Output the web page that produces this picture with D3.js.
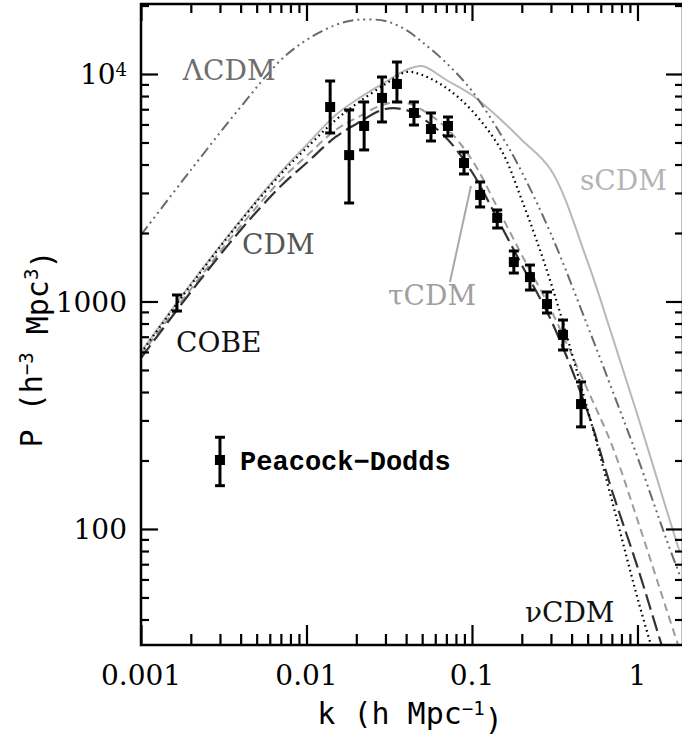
<!DOCTYPE html>
<html>
<head>
<meta charset="utf-8">
<script src="https://cdn.jsdelivr.net/npm/d3@7"></script>
<style>
body { margin: 0; background: #fff; }
svg { display: block; }
</style>
</head>
<body>
<div id="chart"></div>
<script>
// model curves, sampled on a common k grid (h/Mpc), P in (h^-3 Mpc^3)
var kGrid = [0.001, 0.002, 0.004, 0.007, 0.01, 0.015, 0.02, 0.03, 0.04, 0.05, 0.07, 0.1, 0.15, 0.2, 0.3, 0.5, 0.7, 1.0, 1.5, 1.8];

var sCDM   = [600, 1194, 2281, 3708, 4874, 6604, 7688, 9223, 10410, 10840, 9410, 8083, 6279, 5128, 3784, 1492, 712, 317, 121, 79.2];
var lCDM   = [1960, 3784, 7160, 11520, 14110, 16430, 17280, 17100, 15610, 13830, 11180, 8420, 5395, 3708, 1980, 780, 412, 207, 89.4, 62.8];
var CDM    = [594, 1182, 2258, 3635, 4728, 6279, 7383, 9036, 10200, 9899, 8679, 6900, 4634, 2794, 1206, 334, 134, 49.7, 17.7, 10];
var tauCDM = [582, 1134, 2147, 3420, 4361, 5673, 6406, 7383, 7458, 6948, 5788, 4188, 2400, 1601, 918, 408, 234, 109.5, 44.1, 29.4];
var nuCDM  = [564, 1101, 2062, 3219, 4063, 5286, 6028, 7018, 6948, 6406, 5233, 3708, 2147, 1447, 829, 327, 148, 68.1, 26.3, 17.7];

// Peacock-Dodds points
var pdK  = [0.0139, 0.0181, 0.0223, 0.0286, 0.0352, 0.0446, 0.0565, 0.0716, 0.0895, 0.112, 0.142, 0.179, 0.224, 0.284, 0.355, 0.456];
var pdP  = [7160, 4400, 5910, 7850, 9040, 6740, 5730, 5910, 4060, 2940, 2330, 1490, 1280, 975, 713, 354];
var pdLo = [5505, 2710, 4637, 6153, 7535, 5966, 5076, 5340, 3635, 2603, 2104, 1334, 1123, 890, 612, 281];
var pdHi = [9316, 6950, 7535, 9700, 11290, 7535, 6740, 6471, 4540, 3352, 2525, 1667, 1446, 1101, 829, 443];

// COBE normalisation point
var cobeK = [0.00165], cobeP = [985], cobeLo = [908], cobeHi = [1068];

// legend symbol
var legK = 0.003, legP = 201, legLo = 155, legHi = 253;

var xMajor = [0.001, 0.01, 0.1, 1];
var xLabels = ["0.001", "0.01", "0.1", "1"];
var yMajor = [100, 1000, 10000];
var yLabels = [["100", ""], ["1000", ""], ["10", "4"]];

var modelLabels = [
  {text: "\u039BCDM", k: 0.00179, P: 9410, color: "#6e6e6e"},
  {text: "CDM", k: 0.00408, P: 1618, color: "#555"},
  {text: "COBE", k: 0.00163, P: 600, color: "#111"},
  {text: "sCDM", k: 0.449, P: 3092, color: "#b4b4b4"},
  {text: "\u03C4CDM", k: 0.0311, P: 965, color: "#a0a0a0"},
  {text: "\u03BDCDM", k: 0.209, P: 39, color: "#111"}
];

var W = 682, H = 738;
var margin = {top: 4, right: -1, bottom: 93, left: 141},
    width = W - margin.left - margin.right,
    height = H - margin.top - margin.bottom;

var svg = d3.select("#chart").append("svg")
    .attr("width", W)
    .attr("height", H)
    .append("g")
    .attr("transform", "translate(" + margin.left + "," + margin.top + ")");

var x = d3.scaleLog().domain([0.001, 1.884]).range([0, width]);
var y = d3.scaleLog().domain([30.9, 20310]).range([height, 0]);

svg.append("clipPath").attr("id", "clip")
    .append("rect").attr("width", width).attr("height", height);

var plot = svg.append("g").attr("clip-path", "url(#clip)");

var line = d3.line()
    .x(d => x(d[0]))
    .y(d => y(d[1]))
    .curve(d3.curveCatmullRom.alpha(0.5));

var models = [
  {vals: sCDM,   stroke: "#b8b8b8", dash: null,                 w: 2},
  {vals: lCDM,   stroke: "#6a6a6a", dash: "11,4,2,4,2,4,2,4",   w: 2},
  {vals: tauCDM, stroke: "#9c9c9c", dash: "8,5",                w: 2},
  {vals: nuCDM,  stroke: "#333",    dash: "16,6",               w: 2.2},
  {vals: CDM,    stroke: "#000",    dash: "1.6,3.6",            w: 2.2}
];

plot.selectAll(".model")
    .data(models)
    .enter()
    .append("path")
    .attr("class", "model")
    .attr("d", m => line(kGrid.map((k, i) => [k, m.vals[i]])))
    .attr("fill", "none")
    .attr("stroke", m => m.stroke)
    .attr("stroke-width", m => m.w)
    .attr("stroke-dasharray", m => m.dash);

// error bars
function errorBars(g, ks, ps, los, his, square) {
  var pts = ks.map((k, i) => ({k: k, p: ps[i], lo: los[i], hi: his[i]}));
  var e = g.selectAll(null).data(pts).enter().append("g");
  e.append("line")
      .attr("x1", d => x(d.k)).attr("x2", d => x(d.k))
      .attr("y1", d => y(d.lo)).attr("y2", d => y(d.hi))
      .attr("stroke", "#000").attr("stroke-width", 3);
  [ "lo", "hi" ].forEach(function(key) {
    e.append("line")
        .attr("x1", d => x(d.k) - 5).attr("x2", d => x(d.k) + 5)
        .attr("y1", d => y(d[key])).attr("y2", d => y(d[key]))
        .attr("stroke", "#000").attr("stroke-width", 3);
  });
  if (square) {
    e.append("rect")
        .attr("x", d => x(d.k) - 5).attr("y", d => y(d.p) - 5)
        .attr("width", 10).attr("height", 10)
        .attr("fill", "#000");
  }
}

errorBars(plot, pdK, pdP, pdLo, pdHi, true);
errorBars(plot, cobeK, cobeP, cobeLo, cobeHi, false);
errorBars(svg, [legK], [legP], [legLo], [legHi], true);

// tauCDM pointer
svg.append("line")
    .attr("x1", x(0.0736)).attr("y1", y(1218))
    .attr("x2", x(0.0986)).attr("y2", y(3219))
    .attr("stroke", "#a8a8a8").attr("stroke-width", 2);

// labels
svg.selectAll(".mlabel")
    .data(modelLabels)
    .enter()
    .append("text")
    .attr("class", "mlabel")
    .attr("x", d => x(d.k))
    .attr("y", d => y(d.P))
    .attr("fill", d => d.color)
    .style("font-family", "'DejaVu Serif', serif")
    .style("font-size", "28px")
    .text(d => d.text);

svg.append("text")
    .attr("x", x(0.00397))
    .attr("y", y(181.7))
    .style("font-family", "'Liberation Mono', monospace")
    .style("font-weight", "bold")
    .style("font-size", "27px")
    .text("Peacock\u2212Dodds");

// axes and ticks
var xMinor = [], yMinor = [];
[0.001, 0.01, 0.1].forEach(function(d) {
  for (var m = 2; m <= 9; m++) xMinor.push(d * m);
});
[10, 100, 1000, 10000].forEach(function(d) {
  for (var m = 2; m <= 9; m++) {
    var v = d * m;
    if (v >= 30.9 && v <= 20310) yMinor.push(v);
  }
});

function ticks(axis, transform) {
  var g = svg.append("g").attr("transform", transform).call(axis);
  g.select(".domain").remove();
  g.selectAll("line").attr("stroke", "#000").attr("stroke-width", 2.2);
  g.selectAll("text").remove();
}

ticks(d3.axisBottom(x).tickValues(xMajor).tickSize(-20), "translate(0," + height + ")");
ticks(d3.axisBottom(x).tickValues(xMinor).tickSize(-11), "translate(0," + height + ")");
ticks(d3.axisTop(x).tickValues(xMajor).tickSize(-17), "translate(0,0)");
ticks(d3.axisTop(x).tickValues(xMinor).tickSize(-9), "translate(0,0)");
ticks(d3.axisLeft(y).tickValues(yMajor).tickSize(-17), "translate(0,0)");
ticks(d3.axisLeft(y).tickValues(yMinor).tickSize(-8), "translate(0,0)");
ticks(d3.axisRight(y).tickValues(yMajor).tickSize(-17), "translate(" + width + ",0)");
ticks(d3.axisRight(y).tickValues(yMinor).tickSize(-8), "translate(" + width + ",0)");

svg.append("rect")
    .attr("width", width).attr("height", height)
    .attr("fill", "none")
    .attr("stroke", "#000")
    .attr("stroke-width", 2.5);

svg.selectAll(".xlab")
    .data(xMajor)
    .enter()
    .append("text")
    .attr("x", d => x(d))
    .attr("y", height + 40)
    .attr("text-anchor", "middle")
    .style("font-family", "'DejaVu Serif', serif")
    .style("font-size", "28px")
    .text((d, i) => xLabels[i]);

var ylab = svg.selectAll(".ylab")
    .data(yMajor)
    .enter()
    .append("text")
    .attr("x", -14)
    .attr("y", d => y(d))
    .attr("dy", "0.36em")
    .attr("text-anchor", "end")
    .style("font-family", "'DejaVu Serif', serif")
    .style("font-size", "28px");
ylab.append("tspan").text((d, i) => yLabels[i][0]);
ylab.append("tspan")
    .attr("dy", "-0.45em")
    .style("font-size", "18px")
    .text((d, i) => yLabels[i][1]);

var xt = svg.append("text")
    .attr("x", 410 - margin.left)
    .attr("y", height + 79)
    .attr("text-anchor", "middle")
    .style("font-family", "'DejaVu Sans Mono', monospace")
    .style("font-size", "30px");
xt.append("tspan").text("k (h Mpc");
xt.append("tspan").attr("dy", "-0.5em").style("font-size", "19px").text("\u22121");
xt.append("tspan").attr("dy", "0.5em").text(")");

var yt = svg.append("text")
    .attr("transform", "translate(" + (42 - margin.left) + "," + (349 - margin.top) + ") rotate(-90)")
    .attr("text-anchor", "middle")
    .style("font-family", "'DejaVu Sans Mono', monospace")
    .style("font-size", "30px");
yt.append("tspan").text("P (h");
yt.append("tspan").attr("dy", "-0.5em").style("font-size", "19px").text("\u22123");
yt.append("tspan").attr("dy", "0.5em").text(" Mpc");
yt.append("tspan").attr("dy", "-0.5em").style("font-size", "19px").text("3");
yt.append("tspan").attr("dy", "0.5em").text(")");
</script>
</body>
</html>
